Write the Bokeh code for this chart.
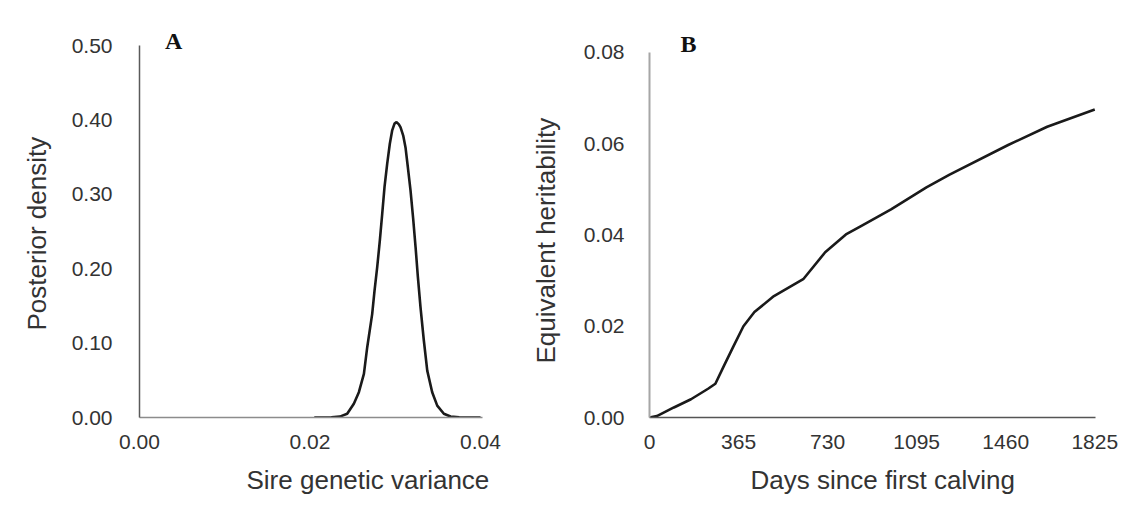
from bokeh.plotting import figure
from bokeh.layouts import row
from bokeh.models import Range1d, FixedTicker, PrintfTickFormatter, Label, Title
from bokeh.embed import file_html
from bokeh.resources import INLINE

# Panel A: posterior density of sire genetic variance
sire_var = [0.0205, 0.0225, 0.0235, 0.02436, 0.02514, 0.02573, 0.02632, 0.02671,
            0.02729, 0.02757, 0.02788, 0.02819, 0.02847, 0.02874, 0.02905, 0.02936,
            0.02964, 0.02991, 0.03015, 0.03042, 0.03062, 0.03093, 0.03120, 0.03148,
            0.03179, 0.03210, 0.03238, 0.03265, 0.03296, 0.03335, 0.03375, 0.03433,
            0.03492, 0.03570, 0.03648, 0.0375, 0.0400]
post_density = [0.000, 0.0002, 0.0012, 0.005, 0.0184, 0.034, 0.0587, 0.0945,
                0.139, 0.171, 0.202, 0.238, 0.274, 0.310, 0.341, 0.368,
                0.386, 0.395, 0.397, 0.394, 0.390, 0.379, 0.363, 0.336,
                0.305, 0.267, 0.229, 0.189, 0.148, 0.1035, 0.063, 0.034,
                0.016, 0.005, 0.0013, 0.0002, 0.000]
a_xticks = [0.00, 0.02, 0.04]
a_yticks = [0.0, 0.1, 0.2, 0.3, 0.4, 0.5]

# Panel B: equivalent heritability over days since first calving
days = [0, 30, 100, 170, 240, 270, 305, 345, 385, 430, 510, 630, 720, 805, 865,
        990, 1135, 1230, 1470, 1630, 1825]
heritability = [0.0, 0.0003, 0.0022, 0.0040, 0.0063, 0.0074, 0.0113, 0.0157, 0.0200,
                0.0231, 0.0266, 0.0303, 0.0362, 0.0401, 0.0419, 0.0456, 0.0504,
                0.0532, 0.0597, 0.0637, 0.0675]
b_xticks = [0, 365, 730, 1095, 1460, 1825]
b_yticks = [0.00, 0.02, 0.04, 0.06, 0.08]

TXT = "#333333"
SANS = "Liberation Sans"


def style(p, xb, yb, xcol, ycol, xw, yw, ystand):
    p.grid.visible = False
    p.outline_line_color = None
    p.background_fill_color = "white"
    p.border_fill_color = "white"
    for ax in (p.xaxis[0], p.yaxis[0]):
        ax.major_tick_line_color = None
        ax.minor_tick_line_color = None
        ax.major_label_text_font = SANS
        ax.major_label_text_font_size = "21px"
        ax.major_label_text_color = TXT
    p.xaxis[0].bounds = xb
    p.yaxis[0].bounds = yb
    p.xaxis[0].axis_line_color = xcol
    p.yaxis[0].axis_line_color = ycol
    p.xaxis[0].axis_line_width = xw
    p.yaxis[0].axis_line_width = yw
    p.xaxis[0].major_label_standoff = 11
    p.yaxis[0].major_label_standoff = ystand


def axis_title(p, text, side, offset, standoff):
    p.add_layout(Title(text=text, align="left", offset=offset, standoff=standoff,
                       text_font=SANS, text_font_size="26px",
                       text_font_style="normal", text_color=TXT), side)


def panel_tag(p, text, x, y):
    p.add_layout(Label(x=x, y=y, text=text, text_font="Liberation Serif",
                       text_font_style="bold", text_font_size="24px",
                       text_color="#111111", text_align="center",
                       text_baseline="middle"))


# ---- Panel A ----
pa = figure(width=505, height=512, output_backend="svg", toolbar_location=None,
            x_range=Range1d(0, 0.04023), y_range=Range1d(0, 0.5269),
            min_border_left=139, min_border_right=23, min_border_top=25,
            min_border_bottom=95)
pa.line(sire_var, post_density, line_color="#1a1a1a", line_width=2.6)
style(pa, (0, 0.04023), (0, 0.5), "#8c8c8c", "#5a5a5a", 1.5, 1.5, 21)
pa.xaxis[0].ticker = FixedTicker(ticks=a_xticks)
pa.yaxis[0].ticker = FixedTicker(ticks=a_yticks)
pa.xaxis[0].formatter = PrintfTickFormatter(format="%.2f")
pa.yaxis[0].formatter = PrintfTickFormatter(format="%.2f")
axis_title(pa, "Sire genetic variance", "below", 107, 22)
axis_title(pa, "Posterior density", "left", 87, 33)
panel_tag(pa, "A", 0.004, 0.5055)

# ---- Panel B ----
pb = figure(width=627, height=512, output_backend="svg", toolbar_location=None,
            x_range=Range1d(0, 1828), y_range=Range1d(0, 0.08589),
            min_border_left=144, min_border_right=37, min_border_top=25,
            min_border_bottom=93)
pb.line(days, heritability, line_color="#1a1a1a", line_width=2.6)
style(pb, (0, 1828), (0, 0.08), "#555555", "#a6a6a6", 1.5, 2.0, 19)
pb.xaxis[0].ticker = FixedTicker(ticks=b_xticks)
pb.yaxis[0].ticker = FixedTicker(ticks=b_yticks)
pb.yaxis[0].formatter = PrintfTickFormatter(format="%.2f")
pb.xaxis[0].formatter = PrintfTickFormatter(format="%d")
axis_title(pb, "Days since first calving", "below", 101, 22)
axis_title(pb, "Equivalent heritability", "left", 54, 40)
panel_tag(pb, "B", 160, 0.0818)

layout = row(pa, pb)
open("out.html", "w").write(file_html(layout, INLINE))
